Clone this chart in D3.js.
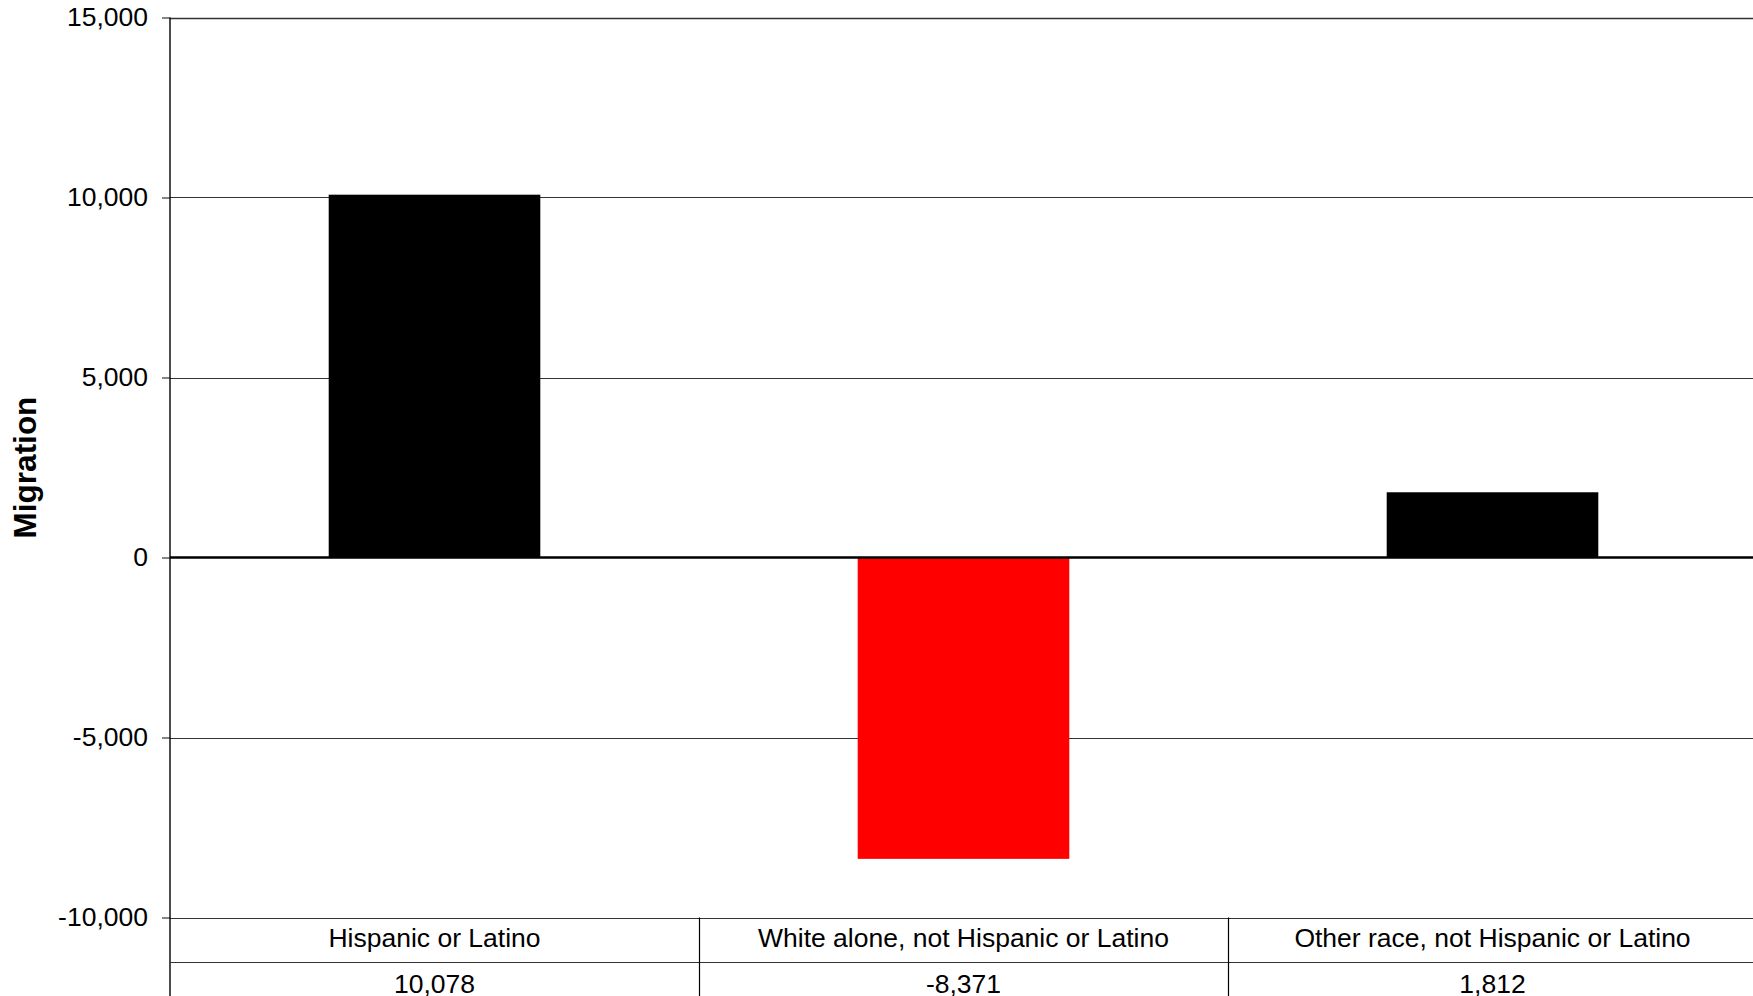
<!DOCTYPE html>
<html>
<head>
<meta charset="utf-8">
<script src="https://cdn.jsdelivr.net/npm/d3@7"></script>
<style>
  html, body { margin: 0; padding: 0; background: #fff; overflow: hidden; }
  svg { display: block; }
  text { font-family: "Liberation Sans", Arial, sans-serif; fill: #000; }
</style>
</head>
<body>
<svg id="chart" width="1753" height="996"></svg>
<script>
// ---- data ----
const categories = ["Hispanic or Latino", "White alone, not Hispanic or Latino", "Other race, not Hispanic or Latino"];
const migration = [10078, -8371, 1812];
const valueLabels = ["10,078", "-8,371", "1,812"];
const barColors = ["#000000", "#ff0000", "#000000"];
const yTicks = [-10000, -5000, 0, 5000, 10000, 15000];
const yTitle = "Migration";

// ---- layout ----
const W = 1753, H = 996;
const plotLeft = 170, plotRight = 1757, plotTop = 17.5, plotBottom = 917.5;
const row1 = 962.5;

const svg = d3.select("#chart");

const y = d3.scaleLinear().domain([-10000, 15000]).range([plotBottom, plotTop]);
const xBar = d3.scaleBand().domain(categories).range([plotLeft, plotRight]).paddingInner(0.6).paddingOuter(0.3);
const xCol = d3.scaleBand().domain(categories).range([plotLeft, plotRight]).padding(0);

const fmt = d3.formatLocale({ decimal: ".", thousands: ",", grouping: [3], currency: ["$", ""], minus: "-" }).format(",");

// gridlines
svg.append("g").selectAll("line").data(yTicks.filter(d => d !== 0)).join("line")
  .attr("x1", plotLeft).attr("x2", W)
  .attr("y1", d => Math.round(y(d)) + 0.5).attr("y2", d => Math.round(y(d)) + 0.5)
  .attr("stroke", "#333").attr("stroke-width", d => d === 15000 ? 1.6 : 1.2);

// bars
svg.append("g").selectAll("rect").data(categories).join("rect")
  .attr("x", d => xBar(d))
  .attr("width", xBar.bandwidth())
  .attr("y", (d, i) => y(Math.max(0, migration[i])))
  .attr("height", (d, i) => Math.abs(y(migration[i]) - y(0)))
  .attr("fill", (d, i) => barColors[i]);

// zero line
svg.append("line")
  .attr("x1", plotLeft).attr("x2", W)
  .attr("y1", y(0)).attr("y2", y(0))
  .attr("stroke", "#000").attr("stroke-width", 2.4);

// y axis
const yAxis = d3.axisLeft(y).tickValues(yTicks).tickFormat(fmt).tickSize(8).tickPadding(14);
const ga = svg.append("g").attr("transform", `translate(${plotLeft},0)`).call(yAxis);
ga.select(".domain").remove();
ga.selectAll(".tick line").attr("stroke", "#333").attr("stroke-width", 1.2);
ga.selectAll(".tick text").attr("font-size", "26.5px").attr("font-family", "Liberation Sans, Arial, sans-serif").attr("fill", "#000");

// left vertical axis line (extends through table)
svg.append("line")
  .attr("x1", plotLeft).attr("x2", plotLeft)
  .attr("y1", plotTop).attr("y2", H)
  .attr("stroke", "#000").attr("stroke-width", 1.4);

// y title
svg.append("text")
  .attr("transform", `translate(36,${(plotTop + plotBottom) / 2}) rotate(-90)`)
  .attr("text-anchor", "middle")
  .attr("font-size", "31.5px").attr("font-weight", "bold")
  .text(yTitle);

// data table
svg.append("line")
  .attr("x1", plotLeft).attr("x2", W)
  .attr("y1", row1).attr("y2", row1)
  .attr("stroke", "#333").attr("stroke-width", 1.2);

svg.append("g").selectAll("line").data(categories.slice(1)).join("line")
  .attr("x1", d => Math.round(xCol(d)) + 0.5).attr("x2", d => Math.round(xCol(d)) + 0.5)
  .attr("y1", plotBottom).attr("y2", H)
  .attr("stroke", "#000").attr("stroke-width", 1.2);

svg.append("g").selectAll("text").data(categories).join("text")
  .attr("x", d => xCol(d) + xCol.bandwidth() / 2)
  .attr("y", 947)
  .attr("text-anchor", "middle")
  .attr("font-size", "26.5px")
  .text(d => d);

svg.append("g").selectAll("text").data(categories).join("text")
  .attr("x", d => xCol(d) + xCol.bandwidth() / 2)
  .attr("y", 993)
  .attr("text-anchor", "middle")
  .attr("font-size", "26.5px")
  .text((d, i) => valueLabels[i]);
</script>
</body>
</html>
